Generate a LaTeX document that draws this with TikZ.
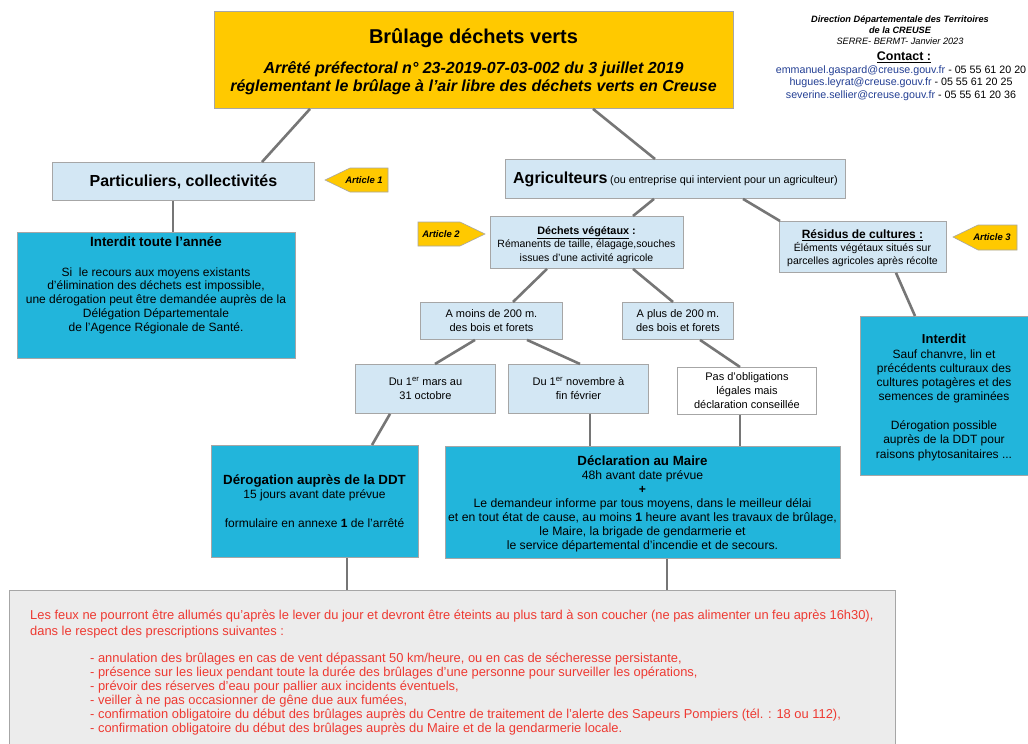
\documentclass[tikz,border=0pt]{standalone}
\usepackage{fontspec}
\setmainfont{Liberation Sans}
\usetikzlibrary{calc}
\definecolor{ttlyellow}{HTML}{FFC900}
\definecolor{lblue}{HTML}{D3E7F4}
\definecolor{cyanbox}{HTML}{22B5DB}
\definecolor{bordergray}{HTML}{A6A6A6}
\definecolor{linegray}{HTML}{767676}
\definecolor{redtxt}{HTML}{EE3A32}
\definecolor{mailblue}{HTML}{233F94}
\definecolor{bggray}{HTML}{ECECEC}
\newcommand{\fs}[2]{\fontsize{#1}{#2}\selectfont}
\begin{document}
\begin{tikzpicture}[x=1pt,y=-1pt,
  box/.style={draw=bordergray, line width=0.9pt, inner sep=0pt, anchor=north west},
  conn/.style={draw=linegray, line width=2.6pt},
  txt/.style={inner sep=0pt, align=center, text=black},
  body/.style={txt, font=\fs{11}{14}},
  art/.style={fill=ttlyellow, draw=bordergray, line width=0.6pt},
  arttxt/.style={inner sep=0pt, font=\fs{9.5}{11}\bfseries\itshape},
]
\useasboundingbox (0,0) rectangle (1028,744);
\clip (0,0) rectangle (1028,744);
\fill[white] (0,0) rectangle (1028,744);

% ---- boxes
\node[box, fill=ttlyellow, minimum width=519pt, minimum height=97pt] (title) at (214,11) {};
\node[box, fill=lblue, minimum width=262pt, minimum height=38pt, font=\fs{16}{18}\bfseries] (part) at (52,162) {Particuliers, collectivités};
\node[box, fill=cyanbox, minimum width=278pt, minimum height=126pt] (int1) at (17,232) {};
\node[box, fill=lblue, minimum width=340pt, minimum height=39pt] (agri) at (505,159)
  {{\fs{16}{18}\bfseries Agriculteurs} {\fs{10.8}{12}(ou entreprise qui intervient pour un agriculteur)}};
\node[box, fill=lblue, minimum width=193pt, minimum height=52pt] (dech) at (490,216) {};
\node[box, fill=lblue, minimum width=167pt, minimum height=51pt] (resi) at (779,221) {};
\node[box, fill=cyanbox, minimum width=180pt, minimum height=159pt] (int2) at (860,316) {};
\node[box, fill=lblue, minimum width=142pt, minimum height=37pt, body] (amoins) at (420,302) {A moins de 200 m.\\des bois et forets};
\node[box, fill=lblue, minimum width=111pt, minimum height=37pt, body] (aplus) at (622,302) {A plus de 200 m.\\des bois et forets};
\node[box, fill=lblue, minimum width=140pt, minimum height=49pt, body] (mars) at (355,364) {Du 1\textsuperscript{er} mars au\\31 octobre};
\node[box, fill=lblue, minimum width=140pt, minimum height=49pt, body] (nov) at (508,364) {Du 1\textsuperscript{er} novembre à\\fin février};
\node[box, fill=white, minimum width=139pt, minimum height=47pt, body] (pas) at (677,367) {Pas d'obligations\\légales mais\\déclaration conseillée};
\node[box, fill=cyanbox, minimum width=207pt, minimum height=112pt] (derog) at (211,445) {};
\node[box, fill=cyanbox, minimum width=395pt, minimum height=112pt] (decl) at (445,446) {};
\node[box, fill=bggray, minimum width=886pt, minimum height=170pt] (bot) at (9,590) {};

% ---- connectors
\draw[conn] ($(title.south west)+(96,0)$) -- ($(part.north west)+(210,0)$);
\draw[conn] ($(title.south west)+(379,0)$) -- ($(agri.north west)+(150,0)$);
\draw[conn] ($(part.south west)+(121,0)$) -- ($(int1.north west)+(156,0)$);
\draw[conn] ($(agri.south west)+(149,0)$) -- ($(dech.north west)+(143,0)$);
\draw[conn] ($(agri.south west)+(238,0)$) -- ($(resi.north west)+(1,0)$);
\draw[conn] ($(resi.south west)+(117,0)$) -- ($(int2.north west)+(55,0)$);
\draw[conn] ($(dech.south west)+(57,0)$) -- ($(amoins.north west)+(93,0)$);
\draw[conn] ($(dech.south west)+(143,0)$) -- ($(aplus.north west)+(51,0)$);
\draw[conn] ($(amoins.south west)+(55,0)$) -- ($(mars.north west)+(80,0)$);
\draw[conn] ($(amoins.south west)+(107,0)$) -- ($(nov.north west)+(72,0)$);
\draw[conn] ($(aplus.south west)+(78,0)$) -- ($(pas.north west)+(63,0)$);
\draw[conn] ($(mars.south west)+(35,0)$) -- ($(derog.north west)+(161,0)$);
\draw[conn] ($(nov.south west)+(82,0)$) -- ($(decl.north west)+(145,0)$);
\draw[conn] ($(pas.south west)+(63,0)$) -- ($(decl.north west)+(295,0)$);
\draw[conn] ($(derog.south west)+(136,0)$) -- ($(bot.north west)+(338,0)$);
\draw[conn] ($(decl.south west)+(222,0)$) -- ($(bot.north west)+(658,0)$);

% ---- title texts
\node[txt, font=\fs{20}{24}\bfseries] (t1) at (473.5,38) {Brûlage déchets verts};
\node[txt, font=\fs{16}{18}\bfseries\itshape] (t2) at (473.5,78) {Arrêté préfectoral n° 23-2019-07-03-002 du 3 juillet 2019\\réglementant le brûlage à l’air libre des déchets verts en Creuse};

% ---- top right info
\node[txt, font=\fs{9.2}{11}] (ddt) at (900,30) {{\bfseries\itshape Direction Départementale des Territoires}\\{\bfseries\itshape de la CREUSE}\\{\itshape SERRE- BERMT- Janvier 2023}};
\node[txt, font=\fs{12.5}{14}\bfseries] (contact) at (904,57) {\underline{Contact :}};
\node[txt, font=\fs{10.7}{12.7}] (mails) at (901,83) {\textcolor{mailblue}{emmanuel.gaspard@creuse.gouv.fr} - 05 55 61 20 20\\\textcolor{mailblue}{hugues.leyrat@creuse.gouv.fr} - 05 55 61 20 25\\\textcolor{mailblue}{severine.sellier@creuse.gouv.fr} - 05 55 61 20 36};

% ---- article tags
\path[art] (325,180) -- (350,168) -- (388,168) -- (388,192) -- (350,192) -- cycle;
\node[arttxt] (a1) at (364,180) {Article 1};
\path[art] (418,222) -- (460,222) -- (485,234) -- (460,246) -- (418,246) -- cycle;
\node[arttxt] (a2) at (441,234) {Article 2};
\path[art] (953,237) -- (978,225) -- (1017,225) -- (1017,250) -- (978,250) -- cycle;
\node[arttxt] (a3) at (992,237.5) {Article 3};

% ---- box texts
\node[txt, font=\fs{13.4}{15}\bfseries] (int1t) at (156,242) {Interdit toute l’année};
\node[body, font=\fs{12}{13.8}] (int1b) at (156,300.5) {Si\ \ le recours aux moyens existants\\d’élimination des déchets est impossible,\\une dérogation peut être demandée auprès de la\\Délégation Départementale\\de l'Agence Régionale de Santé.};
\node[txt, font=\fs{10.5}{13.5}] (decht) at (586.5,245) {{\fs{10.8}{13.5}\bfseries\underline{Déchets végétaux} :}\\Rémanents de taille, élagage,souches\\issues d’une activité agricole};
\node[txt, font=\fs{10.5}{13}] (resit) at (862.5,248) {{\fs{12}{13}\bfseries\underline{Résidus de cultures :}}\\Éléments végétaux situés sur\\parcelles agricoles après récolte};
\node[body, font=\fs{12}{14.3}] (int2t) at (944,397.5) {{\fs{13}{14.3}\bfseries Interdit}\\Sauf chanvre, lin et\\précédents culturaux des\\cultures potagères et des\\semences de graminées\\[14.3pt]Dérogation possible\\auprès de la DDT pour\\raisons phytosanitaires ...};
\node[body, font=\fs{12}{14.5}] (derogt) at (314.5,501) {{\fs{13.3}{14.5}\bfseries Dérogation auprès de la DDT}\\15 jours avant date prévue\\[14.5pt]formulaire en annexe \textbf{1} de l'arrêté};
\node[body, font=\fs{12.2}{14}] (declt) at (642.5,503.5) {{\fs{13.3}{14}\bfseries Déclaration au Maire}\\48h avant date prévue\\\textbf{+}\\Le demandeur informe par tous moyens, dans le meilleur délai\\et en tout état de cause, au moins \textbf{1} heure avant les travaux de brûlage,\\le Maire, la brigade de gendarmerie et\\le service départemental d'incendie et de secours.};

% ---- bottom red text
\node[inner sep=0pt, anchor=west, align=left, text=redtxt, font=\fs{12.9}{16}] (feux) at (30,624) {Les feux ne pourront être allumés qu'après le lever du jour et devront être éteints au plus tard à son coucher (ne pas alimenter un feu après 16h30),\\dans le respect des prescriptions suivantes :};
\node[inner sep=0pt, anchor=west, align=left, text=redtxt, font=\fs{12.9}{14}] (presc) at (90,694) {- annulation des brûlages en cas de vent dépassant 50 km/heure, ou en cas de sécheresse persistante,\\- présence sur les lieux pendant toute la durée des brûlages d'une personne pour surveiller les opérations,\\- prévoir des réserves d'eau pour pallier aux incidents éventuels,\\- veiller à ne pas occasionner de gêne due aux fumées,\\- confirmation obligatoire du début des brûlages auprès du Centre de traitement de l'alerte des Sapeurs Pompiers (tél. : 18 ou 112),\\- confirmation obligatoire du début des brûlages auprès du Maire et de la gendarmerie locale.};
\end{tikzpicture}
\end{document}
